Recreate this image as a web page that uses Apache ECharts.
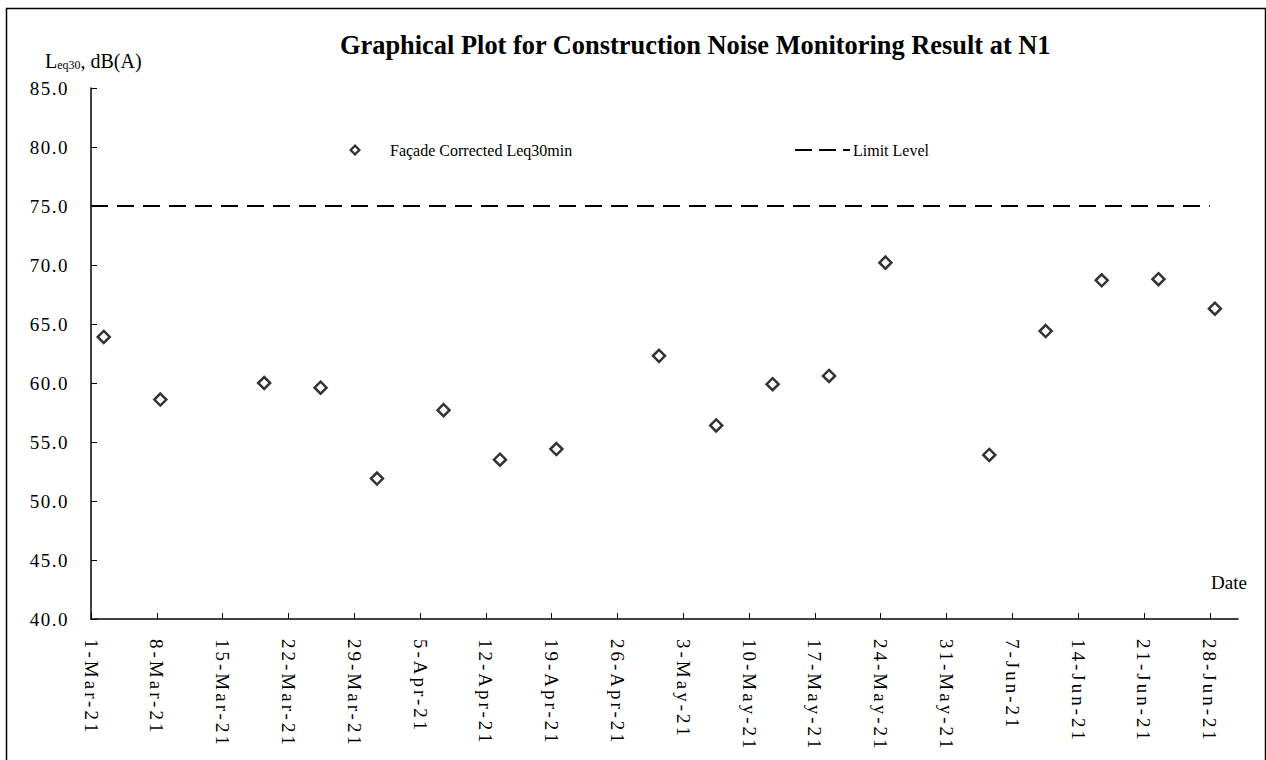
<!DOCTYPE html>
<html>
<head>
<meta charset="utf-8">
<script src="https://cdn.jsdelivr.net/npm/echarts@6/dist/echarts.min.js"></script>
<style>
html,body{margin:0;padding:0;background:#fff;}
#chart{width:1266px;height:760px;}
</style>
</head>
<body>
<div id="chart"></div>
<script>
// ---- data ----
const sampleTimes = [
  '2021-03-02T08:30', '2021-03-08T09:00', '2021-03-19T10:00', '2021-03-25T10:00',
  '2021-03-31T10:00', '2021-04-07T12:00', '2021-04-13T12:00', '2021-04-19T12:00',
  '2021-04-30T10:00', '2021-05-06T12:00', '2021-05-12T12:00', '2021-05-18T12:00',
  '2021-05-24T12:00', '2021-06-04T13:00', '2021-06-10T13:00', '2021-06-16T12:00',
  '2021-06-22T13:00', '2021-06-28T13:00'
];
const leqValues = [63.9, 58.6, 60.0, 59.6, 51.9, 57.7, 53.5, 54.4, 62.3, 56.4,
                   59.9, 60.6, 70.2, 53.9, 64.4, 68.7, 68.8, 66.3];
const limitDates = ['2021-03-01', '2021-06-28'];
const limitValues = [75, 75];
const tickDates = ['2021-03-01','2021-03-08','2021-03-15','2021-03-22','2021-03-29',
  '2021-04-05','2021-04-12','2021-04-19','2021-04-26','2021-05-03','2021-05-10',
  '2021-05-17','2021-05-24','2021-05-31','2021-06-07','2021-06-14','2021-06-21','2021-06-28'];
const xRange = ['2021-03-01', '2021-07-01'];
const yTicks = { min: 40, max: 85, step: 5 };
const seriesNames = ['Façade Corrected Leq30min', 'Limit Level'];

// ---- helpers ----
function ts(s) {
  const [d, t] = s.split('T');
  const [y, m, dd] = d.split('-').map(Number);
  let hh = 0, mm = 0;
  if (t) { [hh, mm] = t.split(':').map(Number); }
  return Date.UTC(y, m - 1, dd, hh, mm);
}
const MON = ['Jan','Feb','Mar','Apr','May','Jun','Jul','Aug','Sep','Oct','Nov','Dec'];
function fmtDate(v) {
  const d = new Date(v);
  return d.getUTCDate() + '-' + MON[d.getUTCMonth()] + '-' + String(d.getUTCFullYear()).slice(2);
}

const FONT = '"Liberation Serif", "Times New Roman", serif';
const chart = echarts.init(document.getElementById('chart'), null, { renderer: 'svg' });

const tickVals = tickDates.map(ts);
const dashIcon = 'path://M0,0h17v2h-17z M24,0h17v2h-17z M48,0h7v2h-7z';
const hollowDiamond = 'path://M6,0L12,6L6,12L0,6Z M6,3.2L3.2,6L6,8.8L8.8,6Z';

chart.setOption({
  backgroundColor: '#fff',
  animation: false,
  title: {
    text: 'Graphical Plot for Construction Noise Monitoring Result at N1',
    left: 335, top: 27,
    textStyle: { fontFamily: FONT, fontWeight: 'bold', fontSize: 26.4, color: '#000' }
  },
  legend: [
    {
      data: [{ name: seriesNames[0], icon: hollowDiamond }],
      left: 344, top: 137,
      itemWidth: 12, itemHeight: 12,
      itemStyle: { color: '#000', borderWidth: 0 },
      textStyle: { fontFamily: FONT, fontSize: 16, color: '#000', padding: [0, 0, 0, 24] }
    },
    {
      data: [{ name: seriesNames[1], icon: dashIcon }],
      left: 790, top: 137,
      itemWidth: 55, itemHeight: 2,
      itemStyle: { color: '#000', borderWidth: 0 },
      textStyle: { fontFamily: FONT, fontSize: 16, color: '#000', padding: [0, 0, 0, -2] }
    }
  ],
  grid: { left: 91, right: 28, top: 88, bottom: 141, containLabel: false },
  xAxis: {
    type: 'value',
    min: ts(xRange[0]), max: ts(xRange[1]),
    splitLine: { show: false },
    axisLine: { lineStyle: { color: '#000', width: 1.5 } },
    axisTick: { inside: true, length: 6, customValues: tickVals, lineStyle: { color: '#000', width: 1 } },
    axisLabel: {
      customValues: tickVals,
      rotate: -90, margin: 20,
      formatter: fmtDate,
      fontFamily: FONT, fontSize: 19, color: '#000'
    }
  },
  yAxis: {
    type: 'value',
    min: yTicks.min, max: yTicks.max, interval: yTicks.step,
    splitLine: { show: false },
    axisLine: { show: true, lineStyle: { color: '#000', width: 1.5 } },
    axisTick: { show: true, inside: true, length: 6, lineStyle: { color: '#000', width: 1 } },
    axisLabel: {
      formatter: v => v.toFixed(1),
      margin: 22,
      fontFamily: FONT, fontSize: 19, color: '#000'
    }
  },
  graphic: [
    {
      type: 'rect', left: 4, top: 6, silent: true,
      shape: { width: 1259, height: 780 },
      style: { fill: 'none', stroke: '#000', lineWidth: 1.5 }
    },
    {
      type: 'text', left: 45, top: 50,
      style: {
        text: '{a|L}{s|eq30}{a|, dB(A)}',
        rich: {
          a: { fontFamily: FONT, fontSize: 20, color: '#000', lineHeight: 24 },
          s: { fontFamily: FONT, fontSize: 12, color: '#000', lineHeight: 24, padding: [9, 0, 0, 0] }
        }
      }
    },
    {
      type: 'text', left: 1211, top: 573,
      style: { text: 'Date', fontFamily: FONT, fontSize: 19, fill: '#000' }
    }
  ],
  series: [
    {
      name: seriesNames[0],
      type: 'scatter',
      symbol: 'diamond',
      symbolSize: 12,
      itemStyle: { color: '#fff', borderColor: '#000', borderWidth: 2.5 },
      data: sampleTimes.map((t, i) => [ts(t), leqValues[i]])
    },
    {
      name: seriesNames[1],
      type: 'line',
      symbol: 'none',
      lineStyle: { color: '#000', width: 2, type: [17, 9] },
      itemStyle: { color: '#000' },
      data: limitDates.map((d, i) => [ts(d), limitValues[i]])
    }
  ]
});

// Excel-like wide spacing of the axis tick labels
function spaceLabels() {
  document.querySelectorAll('#chart svg text').forEach(el => {
    const t = el.textContent || '';
    if (/^\d{1,2}-[A-Z][a-z]{2}-\d{2}$/.test(t)) el.setAttribute('letter-spacing', '3');
    else if (/^\d{2}\.\d$/.test(t)) el.setAttribute('letter-spacing', '1.5');
  });
}
spaceLabels();
chart.on('finished', spaceLabels);
</script>
</body>
</html>
